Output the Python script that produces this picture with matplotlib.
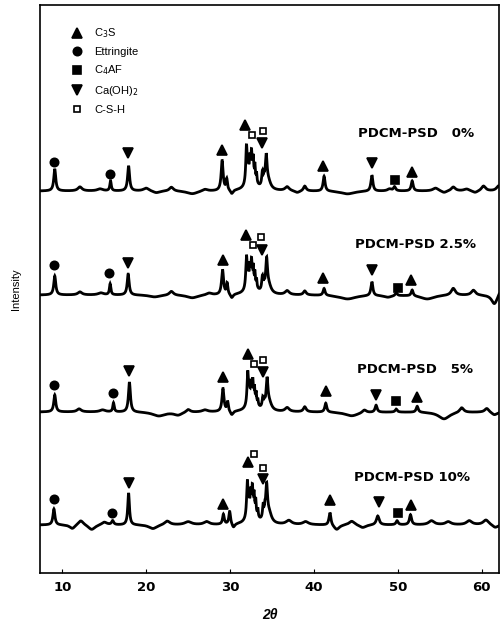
import numpy as np
import matplotlib
matplotlib.use("Agg")
import matplotlib.pyplot as plt
from matplotlib.lines import Line2D

plt.rcParams["font.family"] = ["Liberation Sans", "DejaVu Sans"]

# ---- datos (2θ, intensidad relativa a la línea base) ----
two_theta = np.arange(7.3, 62.1, 0.02)

labels = ["PDCM-PSD   0%", "PDCM-PSD 2.5%", "PDCM-PSD   5%", "PDCM-PSD 10%"]
baselines = [382, 278, 161, 48]
label_pos = [(52.2, 440), (52.1, 328), (52.0, 203), (51.7, 95)]

# picos: (posición, altura, anchura)
peaks_0 = [(9.1, 22, 0.14), (15.75, 10, 0.1), (17.9, 25, 0.14), (29.05, 30, 0.14),
           (29.6, 11, 0.1), (30.2, -4, 0.2),
           (32.55, 20, 0.45), (31.95, 38, 0.1), (32.15, 14, 0.06), (32.35, 16, 0.06),
           (32.55, 18, 0.06), (32.75, 16, 0.06), (32.95, 14, 0.06), (33.15, 9, 0.06),
           (33.85, 14, 0.1), (34.05, 8, 0.06), (34.3, 30, 0.13), (34.55, 8, 0.35),
           (41.2, 15, 0.14), (46.9, 16, 0.14), (49.6, 4, 0.15), (51.7, 10, 0.14)]
peaks_25 = [(9.1, 19, 0.14), (15.7, 11, 0.1), (17.85, 21, 0.14), (29.1, 25, 0.14),
            (29.65, 11, 0.1), (30.2, -4, 0.2),
            (32.55, 18, 0.45), (31.95, 32, 0.1), (32.15, 12, 0.06), (32.35, 14, 0.06),
            (32.55, 16, 0.06), (32.75, 13, 0.06), (32.95, 12, 0.06), (33.15, 8, 0.06),
            (33.85, 14, 0.1), (34.05, 7, 0.06), (34.35, 31, 0.13), (34.6, 8, 0.35),
            (41.2, 7, 0.14), (46.9, 14, 0.14), (49.8, 3, 0.15), (51.7, 6, 0.14)]
peaks_5 = [(9.1, 17, 0.14), (16.1, 9, 0.1), (18.0, 30, 0.14), (29.15, 23, 0.14),
           (29.7, 10, 0.1), (30.2, -4, 0.2),
           (32.65, 17, 0.45), (32.1, 33, 0.1), (32.3, 12, 0.06), (32.5, 13, 0.06),
           (32.7, 14, 0.06), (32.9, 11, 0.06), (33.1, 10, 0.06), (33.3, 6, 0.06),
           (33.9, 10, 0.1), (34.1, 6, 0.06), (34.4, 28, 0.13), (34.65, 8, 0.35),
           (41.4, 9, 0.14), (47.4, 7, 0.15), (49.8, 3, 0.15), (52.3, 6, 0.15)]
peaks_10 = [(9.0, 16, 0.14), (16.0, 4, 0.15), (17.9, 32, 0.12), (29.2, 10, 0.12),
            (29.95, 13, 0.12), (30.4, -4, 0.2),
            (32.65, 20, 0.45), (32.05, 36, 0.1), (32.25, 14, 0.06), (32.45, 16, 0.06),
            (32.65, 17, 0.06), (32.85, 14, 0.06), (33.05, 13, 0.06), (33.3, 8, 0.06),
            (33.95, 14, 0.1), (34.15, 7, 0.06), (34.35, 34, 0.13), (34.65, 10, 0.35),
            (41.9, 13, 0.14), (47.6, 9, 0.2), (49.9, 4, 0.15), (51.5, 10, 0.15)]

# ondulaciones de fondo: (posición, altura, anchura)
waves_0 = [(12.1, 4, 0.3), (14.5, 2, 0.4), (20.0, 3, 0.4), (21.2, -2, 0.5), (23.0, 4, 0.3),
           (25.5, -3, 0.8), (27.0, 2, 0.4), (36.8, 4, 0.3), (38.0, -2, 0.4), (38.9, 5, 0.2),
           (44.0, -3, 1.0), (49.0, 2, 0.3), (54.5, 3, 0.4), (55.5, -2, 0.4), (56.6, 4, 0.3),
           (58.2, 2, 0.4), (59.2, -2, 0.4), (60.2, 5, 0.3), (62.0, 5, 0.3)]
waves_25 = [(12.1, 3, 0.3), (14.6, 2, 0.4), (21.0, -2, 0.8), (23.0, 4, 0.3), (25.5, -3, 0.8),
            (27.5, 2, 0.4), (36.8, 4, 0.3), (38.9, 4, 0.2), (44.0, -4, 1.2), (48.8, -2, 0.6),
            (53.5, -4, 1.0), (56.6, 7, 0.3), (59.0, 5, 0.3), (61.5, -9, 0.4), (62.1, 4, 0.2)]
waves_5 = [(12.0, 3, 0.3), (14.8, 2, 0.4), (21.5, -4, 0.9), (23.8, -3, 0.6), (25.0, 3, 0.3),
           (27.0, 2, 0.4), (36.8, 4, 0.3), (38.9, 5, 0.2), (44.5, -4, 1.0), (46.0, 3, 0.3),
           (55.5, -7, 0.8), (57.6, 5, 0.3), (60.6, 4, 0.3), (61.5, -3, 0.4)]
waves_10 = [(11.2, -4, 0.4), (12.2, 5, 0.4), (13.5, -5, 0.5), (15.0, 3, 0.4), (20.8, -4, 0.6),
            (22.5, 4, 0.4), (25.0, 3, 0.5), (27.2, 3, 0.4), (37.0, 4, 0.4), (39.0, 3, 0.4),
            (42.7, -5, 0.4), (44.5, 4, 0.4), (45.8, -3, 0.5), (54.0, 4, 0.4), (56.0, 3, 0.4),
            (58.5, 4, 0.4), (60.5, 5, 0.4), (61.6, -3, 0.4)]

# marcas de fases: (fase, 2θ, y)
marks_0 = [("E", 9.05, 411), ("E", 15.7, 399), ("CH", 17.8, 420), ("C3S", 29.0, 423),
           ("C3S", 31.8, 448), ("CSH", 32.6, 438), ("CSH", 33.9, 442), ("CH", 33.8, 430),
           ("C3S", 41.1, 407), ("CH", 46.9, 410), ("C4AF", 49.6, 393), ("C3S", 51.7, 401)]
marks_25 = [("E", 9.05, 308), ("E", 15.6, 300), ("CH", 17.8, 310), ("C3S", 29.1, 313),
            ("C3S", 31.9, 338), ("CSH", 32.7, 328), ("CSH", 33.7, 336), ("CH", 33.8, 323),
            ("C3S", 41.1, 295), ("CH", 46.9, 303), ("C4AF", 50.0, 285), ("C3S", 51.6, 293)]
marks_5 = [("E", 9.05, 188), ("E", 16.0, 180), ("CH", 18.0, 202), ("C3S", 29.1, 196),
           ("C3S", 32.1, 219), ("CSH", 32.9, 209), ("CSH", 33.9, 213), ("CH", 33.9, 201),
           ("C3S", 41.4, 182), ("CH", 47.4, 178), ("C4AF", 49.8, 172), ("C3S", 52.3, 176)]
marks_10 = [("E", 9.0, 74), ("E", 15.9, 60), ("CH", 17.9, 90), ("C3S", 29.1, 69),
            ("C3S", 32.1, 111), ("CSH", 32.9, 119), ("CSH", 33.9, 105), ("CH", 33.9, 94),
            ("C3S", 41.9, 73), ("CH", 47.7, 71), ("C4AF", 50.0, 60), ("C3S", 51.6, 68)]

PHASES = {
    "C3S": dict(marker="^", ms=6.5, mfc="black", label=r"C$_3$S"),
    "E": dict(marker="o", ms=6.0, mfc="black", label="Ettringite"),
    "C4AF": dict(marker="s", ms=5.5, mfc="black", label=r"C$_4$AF"),
    "CH": dict(marker="v", ms=6.5, mfc="black", label=r"Ca(OH)$_2$"),
    "CSH": dict(marker="s", ms=5.0, mfc="white", label="C-S-H"),
}


def pattern(base, peaks, waves):
    y = np.full_like(two_theta, float(base))
    for pos, h, w in peaks + waves:
        y += h * w ** 2 / ((two_theta - pos) ** 2 + w ** 2)
    return y


fig = plt.figure(figsize=(5.0, 6.33), dpi=100)
ax = fig.add_axes([0.08, 0.095, 0.918, 0.897])

series = [(peaks_0, waves_0, marks_0), (peaks_25, waves_25, marks_25),
          (peaks_5, waves_5, marks_5), (peaks_10, waves_10, marks_10)]
for (pk, wv, mk), base, lab, lp in zip(series, baselines, labels, label_pos):
    ax.plot(two_theta, pattern(base, pk, wv), color="black", lw=2.0, solid_joinstyle="miter")
    for ph, x, y in mk:
        st = PHASES[ph]
        ax.plot(x, y, linestyle="none", marker=st["marker"], ms=st["ms"],
                mfc=st["mfc"], mec="black", mew=1.2)
    ax.text(lp[0], lp[1], lab, ha="center", va="center", fontsize=9.5, fontweight="bold",
            family="DejaVu Sans")

handles = [Line2D([], [], linestyle="none", marker=s["marker"], ms=s["ms"], mfc=s["mfc"],
                  mec="black", mew=1.2, label=s["label"]) for s in PHASES.values()]
ax.legend(handles=handles, loc="upper left", bbox_to_anchor=(0.045, 0.98), frameon=False,
          fontsize=8, labelspacing=0.6, handletextpad=0.9, handlelength=1.2)

ax.set_xlim(7.34, 62.05)
ax.set_ylim(0, 568)
ax.set_xticks([10, 20, 30, 40, 50, 60])
ax.set_yticks(baselines)
ax.set_yticklabels([])
ax.tick_params(axis="x", direction="in", length=3, labelsize=9.5, pad=6)
ax.tick_params(axis="y", direction="in", length=2)
for t in ax.get_xticklabels():
    t.set_fontweight("bold")
    t.set_family("DejaVu Sans")
for sp in ax.spines.values():
    sp.set_linewidth(1.2)
ax.set_xlabel("2θ", fontsize=10, fontweight="bold", style="italic", labelpad=10)
ax.set_ylabel("Intensity", fontsize=8, labelpad=10)

fig.savefig("out.png", dpi=100)
